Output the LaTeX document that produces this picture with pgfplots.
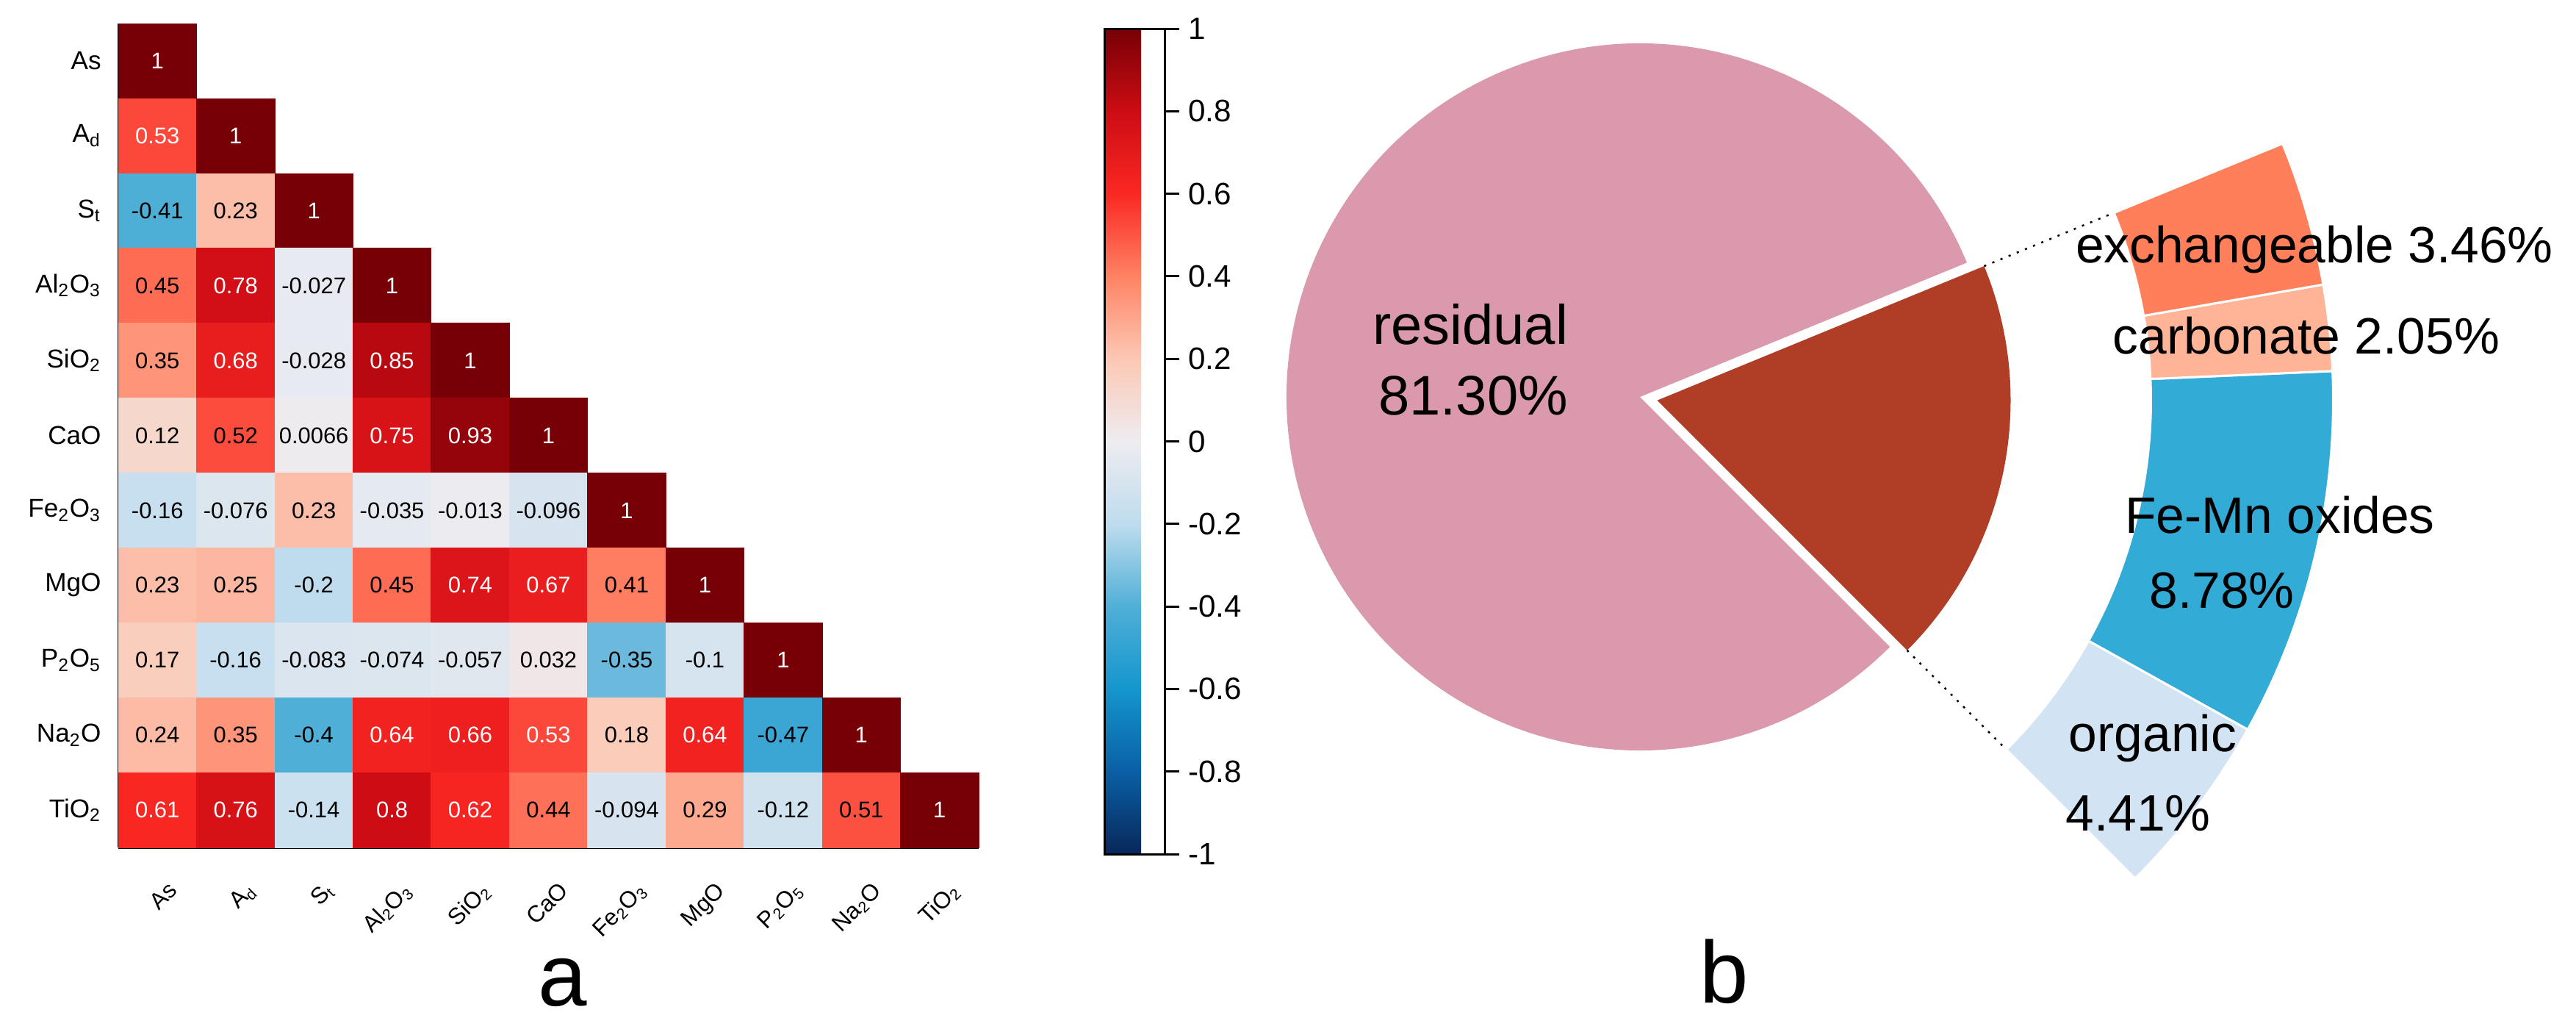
\documentclass[border=0pt]{standalone}
\usepackage{pgfplots}
\pgfplotsset{compat=1.18}
\usepackage{pgfplotstable}
\usepackage{fontspec}
\setmainfont{Liberation Sans}
\usetikzlibrary{calc}

\definecolor{cres}{RGB}{218,153,172}
\definecolor{cbrown}{RGB}{176,62,38}
\definecolor{cexch}{RGB}{255,127,90}
\definecolor{ccarb}{RGB}{255,180,152}
\definecolor{cfemn}{RGB}{50,171,215}
\definecolor{corg}{RGB}{210,228,243}

\pgfplotstableread{
x y v w
0 10 1 1
0 9 0.53 1
1 9 1 1
0 8 -0.41 0
1 8 0.23 0
2 8 1 1
0 7 0.45 0
1 7 0.78 1
2 7 -0.027 0
3 7 1 1
0 6 0.35 0
1 6 0.68 1
2 6 -0.028 0
3 6 0.85 1
4 6 1 1
0 5 0.12 0
1 5 0.52 0
2 5 0.0066 0
3 5 0.75 1
4 5 0.93 1
5 5 1 1
0 4 -0.16 0
1 4 -0.076 0
2 4 0.23 0
3 4 -0.035 0
4 4 -0.013 0
5 4 -0.096 0
6 4 1 1
0 3 0.23 0
1 3 0.25 0
2 3 -0.2 0
3 3 0.45 0
4 3 0.74 1
5 3 0.67 1
6 3 0.41 0
7 3 1 1
0 2 0.17 0
1 2 -0.16 0
2 2 -0.083 0
3 2 -0.074 0
4 2 -0.057 0
5 2 0.032 0
6 2 -0.35 0
7 2 -0.1 0
8 2 1 1
0 1 0.24 0
1 1 0.35 0
2 1 -0.4 0
3 1 0.64 1
4 1 0.66 1
5 1 0.53 1
6 1 0.18 0
7 1 0.64 1
8 1 -0.47 0
9 1 1 1
0 0 0.61 1
1 0 0.76 1
2 0 -0.14 0
3 0 0.8 1
4 0 0.62 1
5 0 0.44 0
6 0 -0.094 0
7 0 0.29 0
8 0 -0.12 0
9 0 0.51 0
10 0 1 1
}\cells

% fractions of As (%)
\def\vres{81.30}
\def\vexch{3.46}
\def\vcarb{2.05}
\def\vfemn{8.78}
\def\vorg{4.41}

\begin{document}%
\begin{tikzpicture}
\pgfmathsetmacro\aS{-45}
\pgfmathsetmacro\aOrg{\aS+3.6*\vorg}
\pgfmathsetmacro\aFemn{\aOrg+3.6*\vfemn}
\pgfmathsetmacro\aCarb{\aFemn+3.6*\vcarb}
\pgfmathsetmacro\aE{\aCarb+3.6*\vexch}
\pgfmathsetmacro\aResEnd{\aE+3.6*\vres}
% ---------- canvas axis (pie chart, panel letters) ----------
\begin{axis}[name=canvas, at={(0,0)}, anchor=north west,
  scale only axis, width=350.6mm, height=140mm,
  xmin=0, xmax=3506, ymin=0, ymax=1400,
  y dir=reverse, axis line style={draw=none}, xtick=\empty, ytick=\empty,
  clip=false, enlargelimits=false]
 % residual slice
 \fill[cres] (axis cs:2232,540) -- ++(\aE:48.1mm)
    arc[start angle=\aE, end angle=\aResEnd, radius=48.1mm] -- cycle;
 % exploded slice
 \fill[cbrown] (axis cs:2255.5,544.7) -- ++(\aS:48.1mm)
    arc[start angle=\aS, end angle=\aE, radius=48.1mm] -- cycle;
 % bar ring
 \filldraw[corg, draw=white, line width=0.3mm] ([shift={(\aS:67.2mm)}]axis cs:2255.5,544.7)
    arc[start angle=\aS, end angle=\aOrg, radius=67.2mm]
    -- ([shift={(\aOrg:92mm)}]axis cs:2255.5,544.7)
    arc[start angle=\aOrg, end angle=\aS, radius=92mm] -- cycle;
 \filldraw[cfemn, draw=white, line width=0.3mm] ([shift={(\aOrg:67.2mm)}]axis cs:2255.5,544.7)
    arc[start angle=\aOrg, end angle=\aFemn, radius=67.2mm]
    -- ([shift={(\aFemn:92mm)}]axis cs:2255.5,544.7)
    arc[start angle=\aFemn, end angle=\aOrg, radius=92mm] -- cycle;
 \filldraw[ccarb, draw=white, line width=0.3mm] ([shift={(\aFemn:67.2mm)}]axis cs:2255.5,544.7)
    arc[start angle=\aFemn, end angle=\aCarb, radius=67.2mm]
    -- ([shift={(\aCarb:92mm)}]axis cs:2255.5,544.7)
    arc[start angle=\aCarb, end angle=\aFemn, radius=92mm] -- cycle;
 \filldraw[cexch, draw=white, line width=0.3mm] ([shift={(\aCarb:67.2mm)}]axis cs:2255.5,544.7)
    arc[start angle=\aCarb, end angle=\aE, radius=67.2mm]
    -- ([shift={(\aE:92mm)}]axis cs:2255.5,544.7)
    arc[start angle=\aE, end angle=\aCarb, radius=92mm] -- cycle;
 % connectors
 \draw[black, line width=0.25mm, dash pattern=on 0.3mm off 0.9mm]
   ([shift={(\aE:48.1mm)}]axis cs:2255.5,544.7) -- ([shift={(\aE:67.2mm)}]axis cs:2255.5,544.7);
 \draw[black, line width=0.25mm, dash pattern=on 0.3mm off 0.9mm]
   ([shift={(\aS:48.1mm)}]axis cs:2255.5,544.7) -- ([shift={(\aS:67.2mm)}]axis cs:2255.5,544.7);
 % labels
 \node[font=\fontsize{21.6}{24}\selectfont] at (axis cs:2001,441) {residual};
 \node[font=\fontsize{21.6}{24}\selectfont] at (axis cs:2005,538) {81.30\%};
 \node[font=\fontsize{19.8}{22}\selectfont] at (axis cs:3150,339) {exchangeable 3.46\%};
 \node[font=\fontsize{19.8}{22}\selectfont] at (axis cs:3139,457) {carbonate 2.05\%};
 \node[font=\fontsize{19.8}{22}\selectfont] at (axis cs:3103,701) {Fe-Mn oxides};
 \node[font=\fontsize{19.8}{22}\selectfont] at (axis cs:3024,804) {8.78\%};
 \node[font=\fontsize{19.8}{22}\selectfont] at (axis cs:2930,1004) {organic};
 \node[font=\fontsize{19.8}{22}\selectfont] at (axis cs:2910,1107) {4.41\%};
 \node[font=\fontsize{34}{36}\selectfont, anchor=base] at (axis cs:766,1368) {a};
 \node[font=\fontsize{34}{36}\selectfont, anchor=base] at (axis cs:2347,1364) {b};
\end{axis}
% ---------- correlation heat map ----------
\begin{axis}[at={(16.1mm,-115.3mm)}, anchor=south west,
  scale only axis, width=117.1mm, height=112.1mm,
  xmin=-0.5, xmax=10.5, ymin=-0.5, ymax=10.5,
  enlargelimits=false,
  axis x line*=bottom, axis y line*=left,
  axis line style={-, line width=0.3mm, black},
  every outer x axis line/.append style={-},
  every outer y axis line/.append style={-},
  xtick={0,...,10}, ytick={0,...,10},
  major tick length=0pt,
  xticklabels={As, A\textsubscript{d}, S\textsubscript{t}, Al\textsubscript{2}O\textsubscript{3}, SiO\textsubscript{2}, CaO, Fe\textsubscript{2}O\textsubscript{3}, MgO, P\textsubscript{2}O\textsubscript{5}, Na\textsubscript{2}O, TiO\textsubscript{2}},
  yticklabels={TiO\textsubscript{2}, Na\textsubscript{2}O, P\textsubscript{2}O\textsubscript{5}, MgO, Fe\textsubscript{2}O\textsubscript{3}, CaO, SiO\textsubscript{2}, Al\textsubscript{2}O\textsubscript{3}, S\textsubscript{t}, A\textsubscript{d}, As},
  yticklabel style={font=\fontsize{10}{12}\selectfont, xshift=-1.1mm},
  xticklabel style={font=\fontsize{9}{10}\selectfont, xshift=1.3mm, yshift=-4.4mm, rotate=45, anchor=north east, inner sep=0pt},
  point meta min=-1, point meta max=1,
  colormap={rdbu}{rgb255(0cm)=(8,40,90); rgb255(1cm)=(10,95,165); rgb255(2cm)=(20,150,205); rgb255(3cm)=(80,175,215); rgb255(4cm)=(190,220,238); rgb255(5cm)=(238,236,240); rgb255(6cm)=(252,200,180); rgb255(7cm)=(255,130,100); rgb255(8cm)=(250,40,35); rgb255(9cm)=(205,12,20); rgb255(10cm)=(118,0,5)},
  colorbar,
  colorbar style={
    at={(parent axis.north east)}, anchor=north west,
    xshift=14.1mm, yshift=-0.7mm,
    scale only axis, width=8.2mm, height=112.3mm,
    ytick={-1,-0.8,-0.6,-0.4,-0.2,0,0.2,0.4,0.6,0.8,1},
    ytick pos=right, tick align=outside,
    major tick length=2mm,
    ytick style={black, line width=0.3mm},
    axis line style={line width=0.3mm},
    yticklabel style={font=\fontsize{12}{14}\selectfont,
      /pgf/number format/assume math mode=true,
      /pgf/number format/fixed, /pgf/number format/precision=1}
  }]
 \addplot[scatter, only marks, mark=square*, mark size=5.3227mm,
   point meta=explicit,
   scatter/use mapped color={draw=mapped color, fill=mapped color},
   mark options={yscale=0.9568, line width=0.2pt}]
   table[x=x, y=y, meta=v] {\cells};
 \addplot[only marks, mark=none, point meta=explicit symbolic,
   restrict expr to domain={\thisrow{w}}{0.5:1.5},
   nodes near coords, nodes near coords align={center},
   every node near coord/.append style={font=\fontsize{8.8}{10}\selectfont, text=white, anchor=center, inner sep=0pt}]
   table[x=x, y=y, meta=v] {\cells};
 \addplot[only marks, mark=none, point meta=explicit symbolic,
   restrict expr to domain={\thisrow{w}}{-0.5:0.5},
   nodes near coords, nodes near coords align={center},
   every node near coord/.append style={font=\fontsize{8.8}{10}\selectfont, text=black, anchor=center, inner sep=0pt}]
   table[x=x, y=y, meta=v] {\cells};
\end{axis}
\pgfresetboundingbox
\path (0,0) rectangle (350.6mm,-140mm);
\end{tikzpicture}%
\end{document}
